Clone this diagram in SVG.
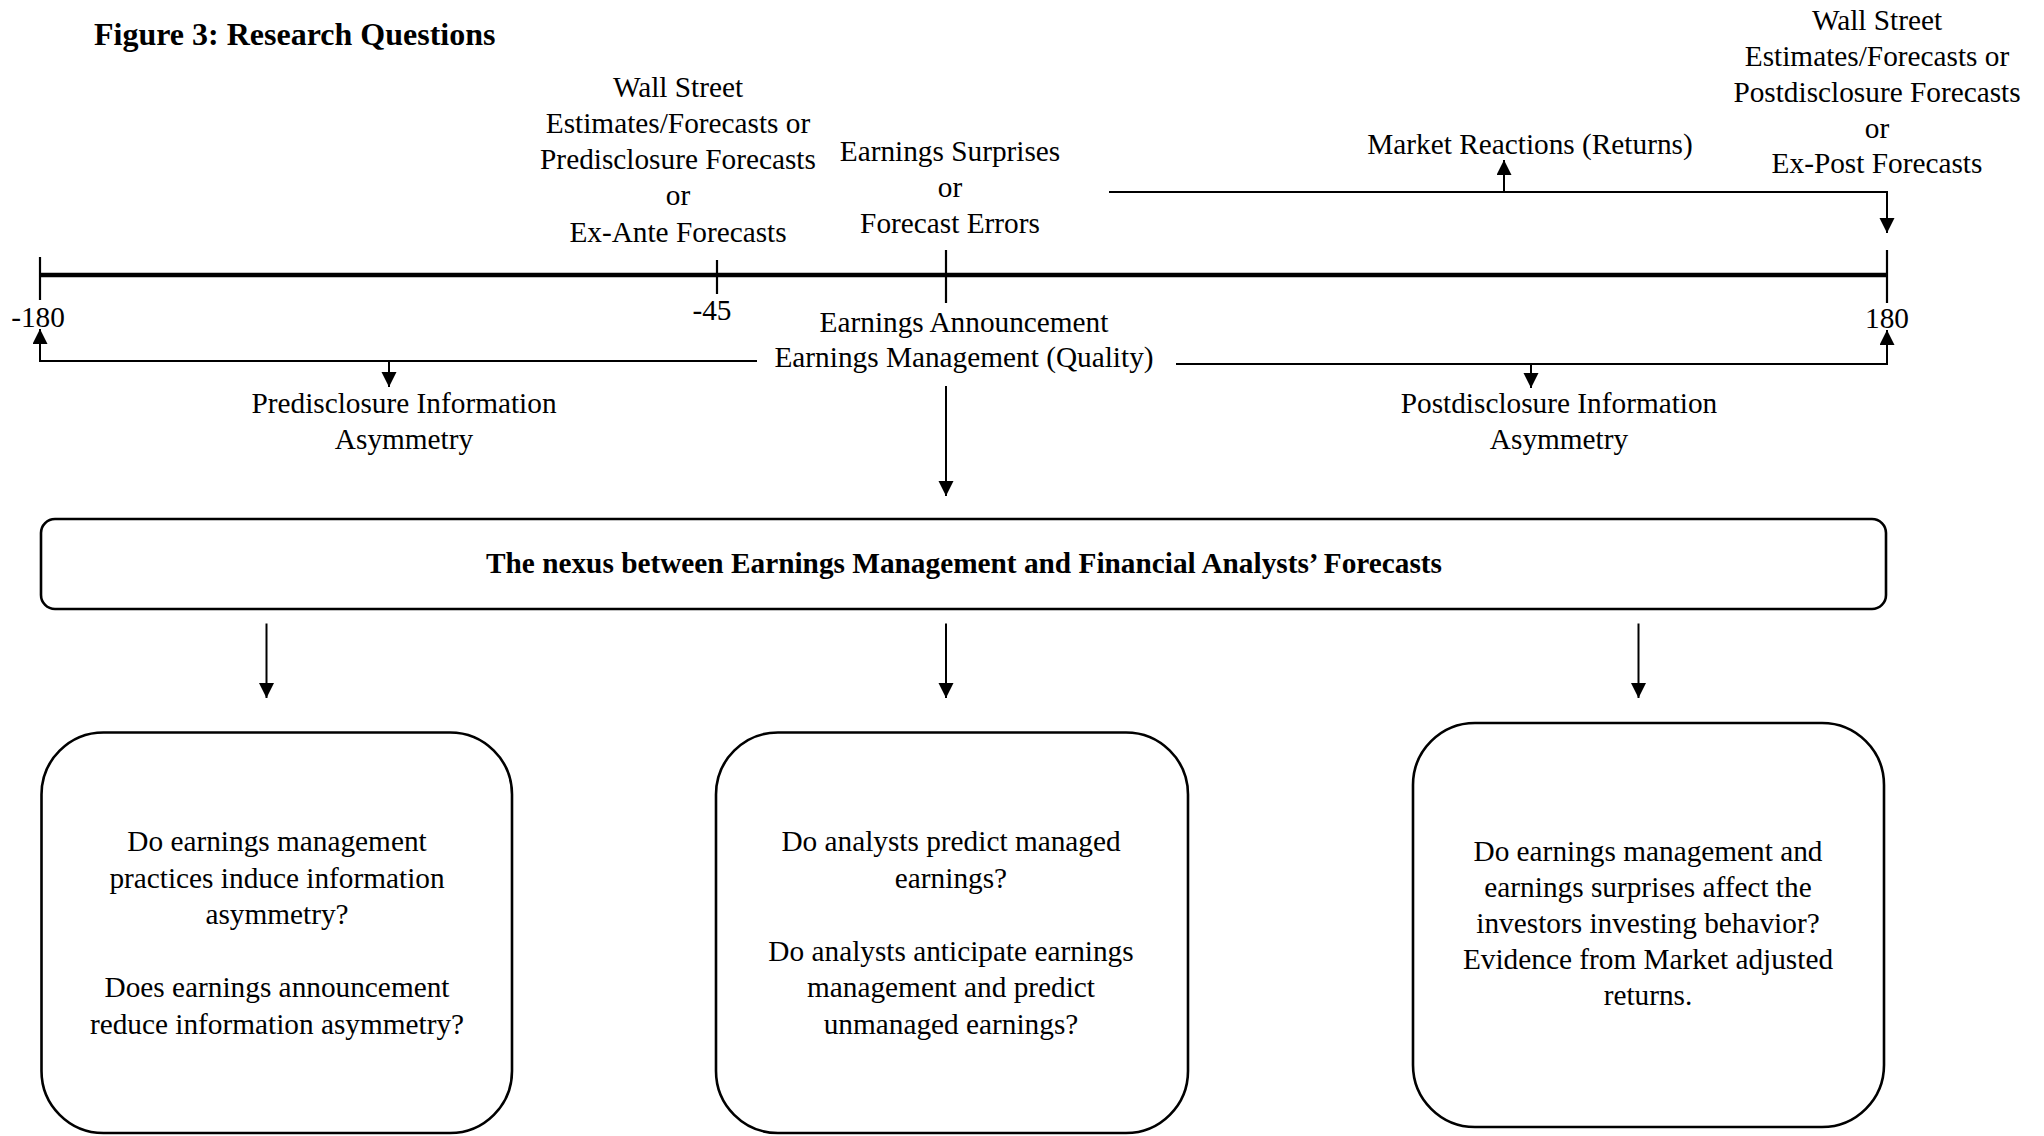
<svg xmlns="http://www.w3.org/2000/svg" width="2044" height="1136" viewBox="0 0 2044 1136">
  <defs>
    <style>
      text { font-family: "Liberation Serif", "Times New Roman", serif; font-size: 29.3px; fill: #000; }
      .c { text-anchor: middle; }
      .b { font-weight: bold; }
      .title { font-size: 32px; font-weight: bold; }
      .box { fill: #fff; stroke: #000; stroke-width: 2.6; }
      .ln { fill: none; stroke: #000; stroke-width: 2; }
      .tick { fill: none; stroke: #000; stroke-width: 2.2; }
      .axis { fill: none; stroke: #000; stroke-width: 4.5; }
      .arr { fill: none; stroke: #000; stroke-width: 2; marker-end: url(#ah); }
    </style>
    <marker id="ah" markerUnits="userSpaceOnUse" markerWidth="16" markerHeight="16" refX="15" refY="7.5" orient="auto">
      <path d="M0,0 L15,7.5 L0,15 Z" fill="#000"/>
    </marker>
  </defs>
  <rect width="2044" height="1136" fill="#fff"/>

  <g id="title">
    <text class="title" x="94" y="45">Figure 3: Research Questions</text>
  </g>

  <g id="timeline">
    <line class="axis" x1="40" y1="275" x2="1887" y2="275"/>
    <line class="tick" x1="40" y1="257" x2="40" y2="300"/>
    <line class="tick" x1="717" y1="260" x2="717" y2="294"/>
    <line class="tick" x1="946" y1="250" x2="946" y2="303"/>
    <line class="tick" x1="1887" y1="250" x2="1887" y2="303"/>
    <text class="c" x="38" y="327">-180</text>
    <text class="c" x="712" y="320">-45</text>
    <text class="c" x="1887" y="328">180</text>
  </g>

  <g id="predisclosure-forecasts">
    <text class="c" x="678" y="97">Wall Street</text>
    <text class="c" x="678" y="133">Estimates/Forecasts or</text>
    <text class="c" x="678" y="169">Predisclosure Forecasts</text>
    <text class="c" x="678" y="205">or</text>
    <text class="c" x="678" y="241.5">Ex-Ante Forecasts</text>
  </g>

  <g id="earnings-surprises">
    <text class="c" x="950" y="161">Earnings Surprises</text>
    <text class="c" x="950" y="197">or</text>
    <text class="c" x="950" y="233">Forecast Errors</text>
  </g>

  <g id="postdisclosure-forecasts">
    <text class="c" x="1877" y="30">Wall Street</text>
    <text class="c" x="1877" y="66">Estimates/Forecasts or</text>
    <text class="c" x="1877" y="102">Postdisclosure Forecasts</text>
    <text class="c" x="1877" y="137.5">or</text>
    <text class="c" x="1877" y="173">Ex-Post Forecasts</text>
  </g>

  <g id="market-reactions">
    <text class="c" x="1530" y="154">Market Reactions (Returns)</text>
  </g>

  <g id="earnings-announcement">
    <text class="c" x="964" y="331.5">Earnings Announcement</text>
    <text class="c" x="964" y="367">Earnings Management (Quality)</text>
  </g>

  <g id="predisclosure-asymmetry">
    <text class="c" x="404" y="413">Predisclosure Information</text>
    <text class="c" x="404" y="449">Asymmetry</text>
  </g>

  <g id="postdisclosure-asymmetry">
    <text class="c" x="1559" y="413">Postdisclosure Information</text>
    <text class="c" x="1559" y="449">Asymmetry</text>
  </g>

  <g id="nexus">
    <rect class="box" x="41" y="519" width="1845" height="90" rx="14" ry="14"/>
    <text class="c b" x="964" y="573">The nexus between Earnings Management and Financial Analysts’ Forecasts</text>
  </g>

  <g id="question-1">
    <rect class="box" x="41.5" y="732.5" width="470.5" height="400.5" rx="62" ry="62"/>
    <text class="c" x="277" y="851">Do earnings management</text>
    <text class="c" x="277" y="887.5">practices induce information</text>
    <text class="c" x="277" y="924">asymmetry?</text>
    <text class="c" x="277" y="997">Does earnings announcement</text>
    <text class="c" x="277" y="1033.5">reduce information asymmetry?</text>
  </g>

  <g id="question-2">
    <rect class="box" x="716" y="732.5" width="472" height="400.5" rx="62" ry="62"/>
    <text class="c" x="951" y="851">Do analysts predict managed</text>
    <text class="c" x="951" y="887.5">earnings?</text>
    <text class="c" x="951" y="960.5">Do analysts anticipate earnings</text>
    <text class="c" x="951" y="997">management and predict</text>
    <text class="c" x="951" y="1033.5">unmanaged earnings?</text>
  </g>

  <g id="question-3">
    <rect class="box" x="1413" y="723" width="471" height="404" rx="62" ry="62"/>
    <text class="c" x="1648" y="861">Do earnings management and</text>
    <text class="c" x="1648" y="897">earnings surprises affect the</text>
    <text class="c" x="1648" y="933">investors investing behavior?</text>
    <text class="c" x="1648" y="969">Evidence from Market adjusted</text>
    <text class="c" x="1648" y="1005">returns.</text>
  </g>

  <g id="connectors">
    <!-- upper bracket: earnings surprises to market reactions and ex-post forecasts -->
    <polyline class="arr" points="1109,192 1887,192 1887,233"/>
    <line class="arr" x1="1504" y1="192" x2="1504" y2="160"/>
    <!-- lower left bracket -->
    <polyline class="arr" points="757,361 40,361 40,329"/>
    <line class="arr" x1="389" y1="361" x2="389" y2="387"/>
    <!-- lower right bracket -->
    <polyline class="arr" points="1176,364 1887,364 1887,330"/>
    <line class="arr" x1="1531" y1="364" x2="1531" y2="388"/>
    <!-- announcement to nexus -->
    <line class="arr" x1="946" y1="386" x2="946" y2="496"/>
    <!-- nexus to questions -->
    <line class="arr" x1="266.5" y1="623.5" x2="266.5" y2="698"/>
    <line class="arr" x1="946" y1="623.5" x2="946" y2="698"/>
    <line class="arr" x1="1638.5" y1="623.5" x2="1638.5" y2="698"/>
  </g>
</svg>
